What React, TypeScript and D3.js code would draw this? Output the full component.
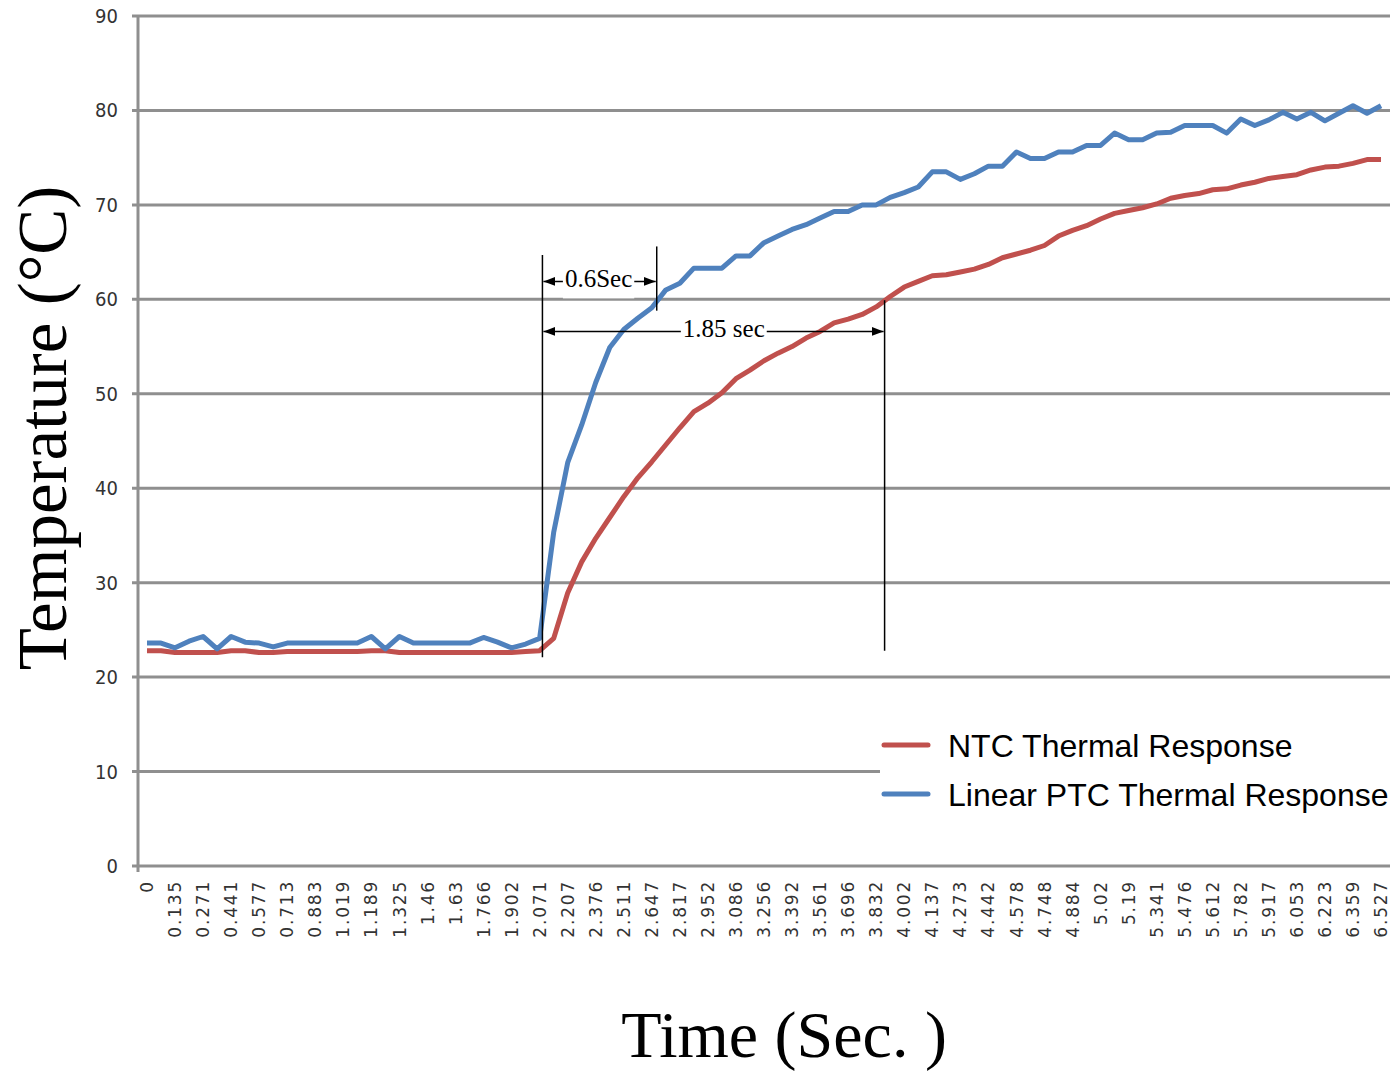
import React, { useEffect, useRef } from 'react';
import * as d3 from 'd3';

// x category labels (every second sample is labelled)
const timeLabels = [
  '0', '0.135', '0.271', '0.441', '0.577', '0.713', '0.883', '1.019', '1.189',
  '1.325', '1.46', '1.63', '1.766', '1.902', '2.071', '2.207', '2.376', '2.511',
  '2.647', '2.817', '2.952', '3.086', '3.256', '3.392', '3.561', '3.696', '3.832',
  '4.002', '4.137', '4.273', '4.442', '4.578', '4.748', '4.884', '5.02', '5.19',
  '5.341', '5.476', '5.612', '5.782', '5.917', '6.053', '6.223', '6.359', '6.527',
];

const ntcValues = [
  22.8, 22.8, 22.6, 22.6, 22.6, 22.6, 22.8, 22.8, 22.6, 22.6,
  22.7, 22.7, 22.7, 22.7, 22.7, 22.7, 22.8, 22.8, 22.6, 22.6,
  22.6, 22.6, 22.6, 22.6, 22.6, 22.6, 22.6, 22.7, 22.8, 24.1,
  28.9, 32.2, 34.7, 36.9, 39.1, 41.1, 42.8, 44.6, 46.4, 48.1,
  49.0, 50.1, 51.6, 52.5, 53.5, 54.3, 55.0, 55.9, 56.6, 57.5,
  57.9, 58.4, 59.2, 60.3, 61.3, 61.9, 62.5, 62.6, 62.9, 63.2,
  63.7, 64.4, 64.8, 65.2, 65.7, 66.7, 67.3, 67.8, 68.5, 69.1,
  69.4, 69.7, 70.1, 70.7, 71.0, 71.2, 71.6, 71.7, 72.1, 72.4,
  72.8, 73.0, 73.2, 73.7, 74.0, 74.1, 74.4, 74.8, 74.8,
];

const ptcValues = [
  23.6, 23.6, 23.1, 23.8, 24.3, 23.0, 24.3, 23.7, 23.6, 23.2,
  23.6, 23.6, 23.6, 23.6, 23.6, 23.6, 24.3, 23.0, 24.3, 23.6,
  23.6, 23.6, 23.6, 23.6, 24.2, 23.7, 23.1, 23.5, 24.1, 35.3,
  42.7, 46.7, 51.2, 54.9, 56.8, 58.0, 59.1, 61.0, 61.7, 63.3,
  63.3, 63.3, 64.6, 64.6, 66.0, 66.7, 67.4, 67.9, 68.6, 69.3,
  69.3, 70.0, 70.0, 70.8, 71.3, 71.9, 73.5, 73.5, 72.7, 73.3,
  74.1, 74.1, 75.6, 74.9, 74.9, 75.6, 75.6, 76.3, 76.3, 77.6,
  76.9, 76.9, 77.6, 77.7, 78.4, 78.4, 78.4, 77.6, 79.1, 78.4,
  79.0, 79.8, 79.1, 79.8, 78.9, 79.7, 80.5, 79.7, 80.5,
];

const yTicks = [0, 10, 20, 30, 40, 50, 60, 70, 80, 90];
const seriesNames = ['NTC Thermal Response', 'Linear PTC Thermal Response'];
const seriesColors = ['#C0504D', '#4F81BD'];

// annotation markers, positions in sample index / °C
const markerIdx = [28.2, 36.35, 52.6];
const markerTop = [64.7, 65.6, 59.9];
const markerBottom = [22.1, 58.8, 22.8];
const spanLabels = ['0.6Sec', '1.85 sec'];
const spanEndIdx = [36.35, 52.6];
const spanY = [61.9, 56.6];

const App = () => {
  const svgRef = useRef<SVGSVGElement | null>(null);

  useEffect(() => {
    if (!svgRef.current) return;
    const svg = d3.select(svgRef.current);
    svg.selectAll('*').remove();

    const left = 138, right = 1390, top = 16, bottom = 866;

    const x = d3.scalePoint<number>()
      .domain(d3.range(ntcValues.length))
      .range([left, right])
      .padding(0.64);
    const xi = (i: number) => x(0)! + i * x.step();

    const y = d3.scaleLinear().domain([0, 90]).range([bottom, top]);

    const defs = svg.append('defs');
    defs.append('marker')
      .attr('id', 'arrowHead')
      .attr('viewBox', '0 0 10 10')
      .attr('refX', 10)
      .attr('refY', 5)
      .attr('markerUnits', 'userSpaceOnUse')
      .attr('markerWidth', 12)
      .attr('markerHeight', 9)
      .attr('preserveAspectRatio', 'none')
      .attr('orient', 'auto-start-reverse')
      .append('path')
      .attr('d', 'M0,0L10,5L0,10Z')
      .attr('fill', '#000');

    // gridlines
    svg.append('g')
      .selectAll('line')
      .data(yTicks)
      .join('line')
      .attr('x1', left - 6)
      .attr('x2', right)
      .attr('y1', d => y(d))
      .attr('y2', d => y(d))
      .attr('stroke', '#8f8f8f')
      .attr('stroke-width', 3);

    // y axis line
    svg.append('line')
      .attr('x1', left).attr('x2', left)
      .attr('y1', top).attr('y2', bottom + 6)
      .attr('stroke', '#8f8f8f')
      .attr('stroke-width', 3);

    // y tick labels
    svg.append('g')
      .selectAll('text')
      .data(yTicks)
      .join('text')
      .attr('x', left - 20)
      .attr('y', d => y(d))
      .attr('dy', '0.35em')
      .attr('text-anchor', 'end')
      .style('font-family', '"Liberation Sans Narrow", "DejaVu Sans Condensed", sans-serif')
      .style('font-size', '20px')
      .style('fill', '#333')
      .text(d => d);

    // x tick labels, rotated
    svg.append('g')
      .selectAll('text')
      .data(timeLabels)
      .join('text')
      .attr('transform', (d, i) => `translate(${x(i * 2)},${bottom + 14}) rotate(-90)`)
      .attr('dy', '0.36em')
      .attr('text-anchor', 'end')
      .style('font-family', '"DejaVu Sans", Verdana, sans-serif')
      .style('font-size', '17px')
      .style('letter-spacing', '1.8px')
      .style('fill', '#333')
      .text(d => d);

    // series
    const line = d3.line<number>()
      .x((d, i) => x(i)!)
      .y(d => y(d));

    [ntcValues, ptcValues].forEach((values, k) => {
      svg.append('path')
        .datum(values)
        .attr('fill', 'none')
        .attr('stroke', seriesColors[k])
        .attr('stroke-width', 5)
        .attr('stroke-linejoin', 'round')
        .attr('d', line);
    });

    // legend
    const legend = svg.append('g');
    legend.append('rect')
      .attr('x', 880).attr('y', 718)
      .attr('width', 513).attr('height', 100)
      .attr('fill', '#fff');
    seriesNames.forEach((name, k) => {
      const ly = 745 + k * 49;
      legend.append('line')
        .attr('x1', 884).attr('x2', 928)
        .attr('y1', ly).attr('y2', ly)
        .attr('stroke', seriesColors[k])
        .attr('stroke-width', 5)
        .attr('stroke-linecap', 'round');
      legend.append('text')
        .attr('x', 948).attr('y', ly)
        .attr('dy', '0.36em')
        .style('font-family', '"Liberation Sans", Arial, sans-serif')
        .style('font-size', '32px')
        .style('fill', '#000')
        .text(name);
    });

    // annotation: vertical markers
    const ann = svg.append('g');
    markerIdx.forEach((m, k) => {
      ann.append('line')
        .attr('x1', xi(m)).attr('x2', xi(m))
        .attr('y1', y(markerTop[k])).attr('y2', y(markerBottom[k]))
        .attr('stroke', '#000')
        .attr('stroke-width', 1.5);
    });

    // annotation: span arrows with labels
    spanLabels.forEach((label, k) => {
      const x1 = xi(markerIdx[0]);
      const x2 = xi(spanEndIdx[k]);
      const ay = y(spanY[k]);
      ann.append('line')
        .attr('x1', x1 + 1).attr('x2', x2 - 1)
        .attr('y1', ay).attr('y2', ay)
        .attr('stroke', '#000')
        .attr('stroke-width', 1.5)
        .attr('marker-start', 'url(#arrowHead)')
        .attr('marker-end', 'url(#arrowHead)');
      const bg = ann.append('rect').attr('fill', '#fff');
      const t = ann.append('text')
        .attr('x', k === 0 ? (x1 + x2) / 2 - 1 : x1 + (x2 - x1) * 0.53)
        .attr('y', ay - 2)
        .attr('dy', '0.32em')
        .attr('text-anchor', 'middle')
        .style('font-family', '"Liberation Serif", "DejaVu Serif", serif')
        .style('font-size', '25px')
        .style('fill', '#000')
        .text(label);
      const b = (t.node() as SVGTextElement).getBBox();
      bg.attr('x', b.x - 2).attr('y', b.y + 1)
        .attr('width', b.width + 4).attr('height', b.height + 5);
    });

    // axis titles
    svg.append('text')
      .attr('transform', `translate(66,${(top + bottom) / 2 - 13}) rotate(-90)`)
      .attr('text-anchor', 'middle')
      .style('font-family', '"Liberation Serif", "DejaVu Serif", serif')
      .style('font-size', '69px')
      .style('fill', '#000')
      .text('Temperature (°C)');

    svg.append('text')
      .attr('x', 784)
      .attr('y', 1057)
      .attr('text-anchor', 'middle')
      .style('font-family', '"Liberation Serif", "DejaVu Serif", serif')
      .style('font-size', '66px')
      .style('fill', '#000')
      .text('Time (Sec. )');
  }, []);

  return (
    <svg
      ref={svgRef}
      width={1393}
      height={1072}
      style={{ position: 'absolute', left: 0, top: 0, background: '#fff' }}
    />
  );
};

export default App;
